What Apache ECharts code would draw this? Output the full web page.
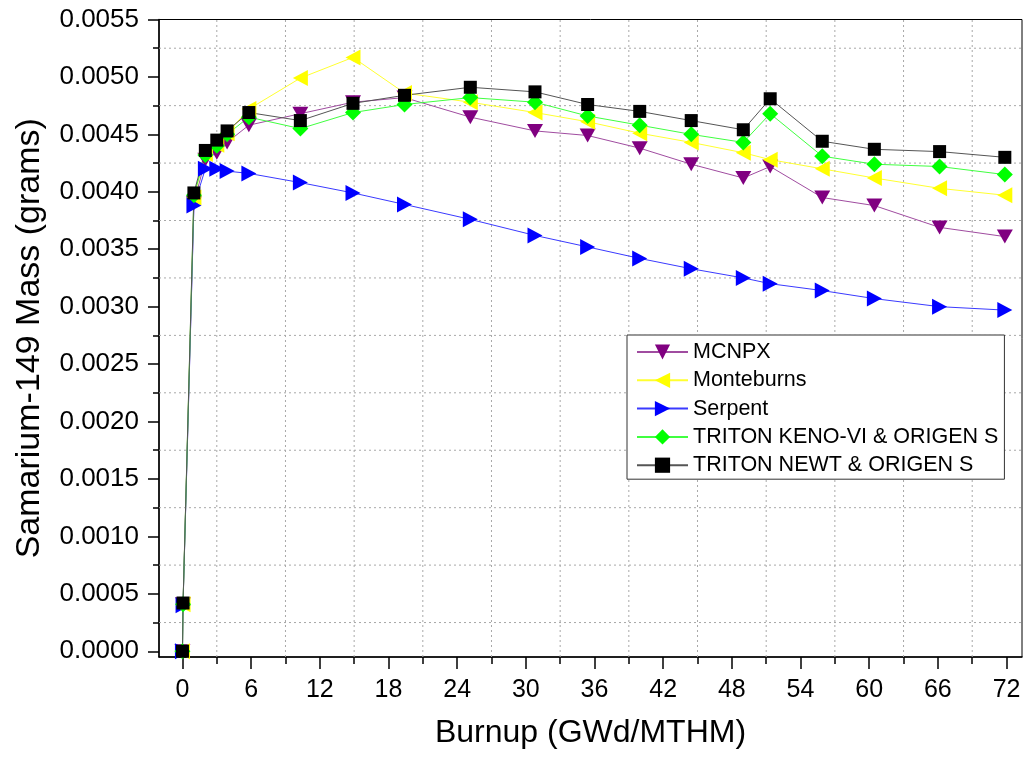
<!DOCTYPE html>
<html><head><meta charset="utf-8">
<script src="https://cdn.jsdelivr.net/npm/echarts@6/dist/echarts.min.js"></script>
<style>html,body{margin:0;padding:0;background:#fff}#c{width:1027px;height:762px}</style>
</head><body><div id="c"></div>
<script>
// Burnup (GWd/MTHM)
const burnup = [0, 0.05, 1, 2, 3, 3.9, 5.8, 10.3, 14.9, 19.4, 25.15, 30.8, 35.4, 39.95, 44.45, 49.0, 51.35, 55.9, 60.45, 66.15, 71.85];
// Samarium-149 mass (grams)
const mcnpx      = [0, 0.00041, 0.00390, 0.00428, 0.00434, 0.00443, 0.00458, 0.00468, 0.00478, 0.00482, 0.00465, 0.00453, 0.00449, 0.00438, 0.00424, 0.00412, 0.00422, 0.00395, 0.00388, 0.00369, 0.00361];
const monteburns = [0, 0.00041, 0.00395, 0.00433, 0.00441, 0.00451, 0.00472, 0.00499, 0.00517, 0.00486, 0.00478, 0.00469, 0.00461, 0.00451, 0.00443, 0.00434, 0.00428, 0.00420, 0.00412, 0.00403, 0.00397];
const serpent    = [0, 0.00040, 0.00388, 0.00420, 0.00420, 0.00418, 0.00416, 0.00408, 0.00399, 0.00389, 0.00376, 0.00362, 0.00352, 0.00342, 0.00333, 0.00325, 0.00320, 0.00314, 0.00307, 0.00300, 0.00297];
const tritonKeno = [0, 0.00041, 0.00397, 0.00432, 0.00440, 0.00450, 0.00465, 0.00455, 0.00469, 0.00476, 0.00482, 0.00478, 0.00466, 0.00458, 0.00450, 0.00443, 0.00468, 0.00431, 0.00424, 0.00422, 0.00415];
const tritonNewt = [0, 0.00042, 0.00399, 0.00436, 0.00445, 0.00453, 0.00469, 0.00462, 0.00477, 0.00484, 0.00491, 0.00487, 0.00476, 0.00470, 0.00462, 0.00454, 0.00481, 0.00444, 0.00437, 0.00435, 0.00430];
const seriesNames = ['MCNPX', 'Monteburns', 'Serpent', 'TRITON KENO-VI & ORIGEN S', 'TRITON NEWT & ORIGEN S'];
// Axis ticks
const xTicks = [0, 6, 12, 18, 24, 30, 36, 42, 48, 54, 60, 66, 72];
const xMinorTicks = [3, 9, 15, 21, 27, 33, 39, 45, 51, 57, 63, 69];
const yTicks = [0, 0.0005, 0.0010, 0.0015, 0.0020, 0.0025, 0.0030, 0.0035, 0.0040, 0.0045, 0.0050, 0.0055];
const yMinorTicks = [0.00025, 0.00075, 0.00125, 0.00175, 0.00225, 0.00275, 0.00325, 0.00375, 0.00425, 0.00475, 0.00525];

const FONT = "'Liberation Sans', Arial, sans-serif";
const X_MIN = -2.05, X_MAX = 73.35, Y_MIN = -0.00005, Y_MAX = 0.0055;

const pts = vals => vals.map((v, i) => [burnup[i], v]);
const SYM_DOWN = 'path://M0,0L10,0L5,9Z';
const SYM_LEFT = 'path://M9,0L9,10L0,5Z';
const SYM_RIGHT = 'path://M0,0L0,10L9,5Z';
const SYM_DIAMOND = 'path://M5,0L10,5L5,10L0,5Z';

function mk(name, vals, color, lineColor, symbol, size) {
  return {
    name, type: 'line', data: pts(vals), xAxisIndex: 0, yAxisIndex: 0, z: 6,
    symbol, symbolSize: size, showAllSymbol: true,
    itemStyle: { color, borderWidth: 0 },
    lineStyle: { color: lineColor, width: 1 },
    emphasis: { disabled: true },
    animation: false
  };
}

// dotted grid lines at the minor-tick positions (as in the reference)
function gridLineSeries(a, b) {
  return {
    type: 'line', data: [a, b], xAxisIndex: 0, yAxisIndex: 0, silent: true, z: 1,
    symbol: 'none', animation: false, emphasis: { disabled: true }, tooltip: { show: false },
    lineStyle: { color: '#a8a8a8', width: 1, type: [2, 3] }
  };
}
const gridSeries = xMinorTicks.map(v => gridLineSeries([v, Y_MIN], [v, Y_MAX]))
  .concat(yMinorTicks.map(v => gridLineSeries([X_MIN, v], [X_MAX, v])));

const chart = echarts.init(document.getElementById('c'), null, { renderer: 'canvas' });
const axisLineStyle = { color: '#000', width: 1.5 };

chart.setOption({
  animation: false,
  backgroundColor: '#fff',
  grid: { left: 159, right: 5, top: 19.5, bottom: 105, show: true, borderColor: '#000', borderWidth: 1, backgroundColor: 'transparent' },
  legend: {
    orient: 'vertical', left: 627, top: 335, z: 10,
    itemWidth: 51, itemHeight: 19, itemGap: 6.3,
    padding: [6, 6, 3, 9],
    borderColor: '#333', borderWidth: 1, backgroundColor: '#fff',
    textStyle: { fontFamily: FONT, fontSize: 21.5, color: '#000' },
    data: seriesNames
  },
  xAxis: [
    {
      type: 'value', min: X_MIN, max: X_MAX, position: 'bottom',
      name: 'Burnup (GWd/MTHM)', nameLocation: 'middle', nameGap: 60,
      nameTextStyle: { fontFamily: FONT, fontSize: 32, color: '#000' },
      axisLine: { show: true, onZero: false, lineStyle: axisLineStyle },
      axisTick: { show: true, inside: false, length: 12, customValues: xTicks, lineStyle: { color: '#000', width: 1.5 } },
      axisLabel: { show: true, customValues: xTicks, margin: 21, fontFamily: FONT, fontSize: 25, color: '#000' },
      splitLine: { show: false }
    },
    {
      type: 'value', min: X_MIN, max: X_MAX, position: 'bottom',
      axisLine: { show: false, onZero: false },
      axisTick: { show: true, inside: false, length: 7, customValues: xMinorTicks, lineStyle: { color: '#000', width: 1.5 } },
      axisLabel: { show: false },
      splitLine: { show: false }
    }
  ],
  yAxis: [
    {
      type: 'value', min: Y_MIN, max: Y_MAX, position: 'left',
      name: 'Samarium-149 Mass (grams)', nameLocation: 'middle', nameGap: 112,
      nameTextStyle: { fontFamily: FONT, fontSize: 34, color: '#000' },
      axisLine: { show: true, onZero: false, lineStyle: axisLineStyle },
      axisTick: { show: true, inside: false, length: 11, customValues: yTicks, lineStyle: { color: '#000', width: 1.5 } },
      axisLabel: { show: true, customValues: yTicks, margin: 20, fontFamily: FONT, fontSize: 26, color: '#000', formatter: v => v.toFixed(4) },
      splitLine: { show: false }
    },
    {
      type: 'value', min: Y_MIN, max: Y_MAX, position: 'left',
      axisLine: { show: false, onZero: false },
      axisTick: { show: true, inside: false, length: 6, customValues: yMinorTicks, lineStyle: { color: '#000', width: 1.5 } },
      axisLabel: { show: false },
      splitLine: { show: false }
    }
  ],
  series: gridSeries.concat([
    mk(seriesNames[0], mcnpx, '#800080', '#a04ca0', SYM_DOWN, [16, 14]),
    mk(seriesNames[1], monteburns, '#ffff00', '#ffff30', SYM_LEFT, [15, 16]),
    mk(seriesNames[2], serpent, '#0000ff', '#3a3aff', SYM_RIGHT, [15, 16]),
    mk(seriesNames[3], tritonKeno, '#00ff00', '#40ff40', SYM_DIAMOND, [16, 16]),
    mk(seriesNames[4], tritonNewt, '#000000', '#555555', 'rect', [13, 13])
  ])
});
</script></body></html>
